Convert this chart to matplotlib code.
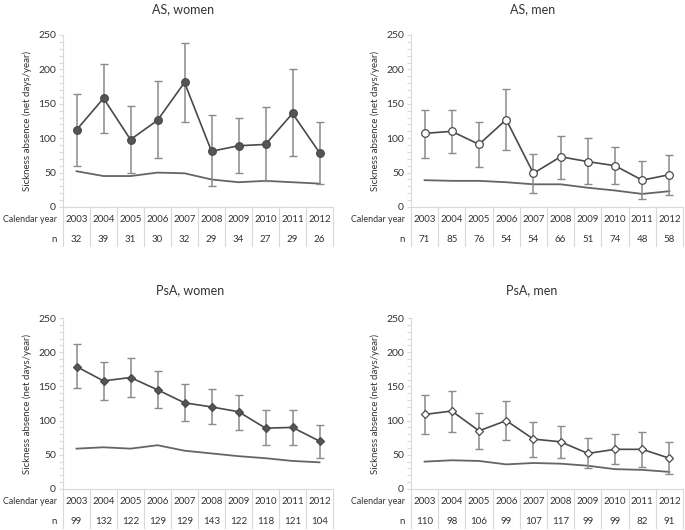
import matplotlib
matplotlib.use('Agg')
import matplotlib.pyplot as plt
import matplotlib.transforms as mtransforms
import numpy as np

plt.rcParams['font.family'] = ['Lato', 'DejaVu Sans']

years = ['2003', '2004', '2005', '2006', '2007', '2008', '2009', '2010', '2011', '2012']

# AS, women
as_w_mean = [112, 158, 98, 126, 181, 81, 89, 91, 136, 79]
as_w_upper = [164, 208, 147, 183, 239, 133, 130, 146, 200, 123]
as_w_lower = [60, 108, 49, 71, 124, 30, 49, 38, 74, 34]
as_w_ref = [52, 45, 45, 50, 49, 40, 36, 38, 36, 34]
as_w_n = [32, 39, 31, 30, 32, 29, 34, 27, 29, 26]

# AS, men
as_m_mean = [107, 110, 91, 127, 49, 73, 66, 60, 39, 47]
as_m_upper = [141, 141, 124, 171, 77, 103, 100, 87, 67, 76]
as_m_lower = [71, 78, 58, 83, 21, 41, 34, 34, 11, 18]
as_m_ref = [39, 38, 38, 36, 33, 33, 28, 24, 19, 23]
as_m_n = [71, 85, 76, 54, 54, 66, 51, 74, 48, 58]

# PsA, women
psa_w_mean = [179, 158, 163, 145, 126, 120, 113, 89, 90, 70]
psa_w_upper = [212, 186, 192, 173, 153, 146, 138, 115, 116, 93]
psa_w_lower = [147, 130, 134, 119, 99, 95, 86, 65, 65, 46]
psa_w_ref = [59, 61, 59, 64, 56, 52, 48, 45, 41, 39]
psa_w_n = [99, 132, 122, 129, 129, 143, 122, 118, 121, 104]

# PsA, men
psa_m_mean = [109, 114, 85, 100, 73, 69, 52, 58, 58, 45]
psa_m_upper = [137, 143, 111, 128, 98, 92, 75, 81, 83, 68]
psa_m_lower = [81, 84, 59, 71, 47, 46, 31, 36, 32, 22]
psa_m_ref = [40, 42, 41, 36, 38, 37, 34, 29, 28, 25]
psa_m_n = [110, 98, 106, 99, 107, 117, 99, 99, 82, 91]

W, H = 685, 530
fig = plt.figure(figsize=(W / 100, H / 100), dpi=100)

LINE = '#4a4a4a'
ERR = '#8a8a8a'
REF = '#656565'
GRID = '#d9d9d9'
TXT = '#333333'

panels = [
    dict(title='AS, women', mean=as_w_mean, up=as_w_upper, lo=as_w_lower, ref=as_w_ref, n=as_w_n,
         box=(63, 333, 35, 207), title_xy=(183, 9), marker='o', ms=5.5, filled=True),
    dict(title='AS, men', mean=as_m_mean, up=as_m_upper, lo=as_m_lower, ref=as_m_ref, n=as_m_n,
         box=(411, 683, 35, 207), title_xy=(533, 9), marker='o', ms=5.5, filled=False),
    dict(title='PsA, women', mean=psa_w_mean, up=psa_w_upper, lo=psa_w_lower, ref=psa_w_ref, n=psa_w_n,
         box=(63, 333, 318, 489), title_xy=(190, 290), marker='D', ms=3.8, filled=True),
    dict(title='PsA, men', mean=psa_m_mean, up=psa_m_upper, lo=psa_m_lower, ref=psa_m_ref, n=psa_m_n,
         box=(411, 683, 318, 489), title_xy=(532, 290), marker='D', ms=3.8, filled=False),
]

for p in panels:
    x0, x1, ytop, ybot = p['box']
    ax = fig.add_axes([x0 / W, 1 - ybot / H, (x1 - x0) / W, (ybot - ytop) / H])
    hpx = ybot - ytop
    wpx = x1 - x0
    x = np.arange(len(years))
    mean = np.array(p['mean'])
    yerr = [mean - np.array(p['lo']), np.array(p['up']) - mean]

    ax.plot(x, p['ref'], color=REF, lw=1.3, zorder=2)
    ax.errorbar(x, mean, yerr=yerr, fmt='none', ecolor=ERR, elinewidth=1.1,
                capsize=2.6, capthick=1.0, zorder=3)
    ax.plot(x, mean, color=LINE, lw=1.2, zorder=4,
            marker=p['marker'], ms=p['ms'],
            mfc=('#555555' if p['filled'] else 'white'), mec='#4a4a4a', mew=0.9)

    ax.set_xlim(-0.5, len(years) - 0.5)
    ax.set_ylim(0, 250)
    ax.set_yticks([0, 50, 100, 150, 200, 250])
    ax.set_yticks(np.arange(0, 251, 10), minor=True)
    ax.set_xticks([])
    for s in ['top', 'right']:
        ax.spines[s].set_visible(False)
    for s in ['left', 'bottom']:
        ax.spines[s].set_color(GRID)
        ax.spines[s].set_linewidth(0.8)
    ax.tick_params(axis='y', which='both', color=GRID, length=3, width=0.8,
                   labelsize=7.5, labelcolor=TXT, pad=2)
    ax.set_ylabel('Sickness absence (net days/year)', fontsize=7, color=TXT)
    ax.yaxis.set_label_coords(-31 / wpx, 0.5)

    trans = ax.get_xaxis_transform()
    t_year = mtransforms.offset_copy(trans, fig=fig, x=0, y=-13, units='dots')
    t_n = mtransforms.offset_copy(trans, fig=fig, x=0, y=-32, units='dots')
    for i, yr in enumerate(years):
        ax.text(i, 0, yr, transform=t_year, ha='center', va='center', fontsize=7, color=TXT)
        ax.text(i, 0, str(p['n'][i]), transform=t_n, ha='center', va='center', fontsize=7, color=TXT)
    t_year_l = mtransforms.offset_copy(trans, fig=fig, x=-6, y=-13, units='dots')
    t_n_l = mtransforms.offset_copy(trans, fig=fig, x=-6, y=-33, units='dots')
    ax.text(-0.5, 0, 'Calendar year', transform=t_year_l, ha='right', va='center', fontsize=6.4, color=TXT)
    ax.text(-0.5, 0, 'n', transform=t_n_l, ha='right', va='center', fontsize=7, color=TXT)
    for b in np.arange(-0.5, len(years), 1.0):
        ax.plot([b, b], [0, -39 / hpx], transform=trans, color=GRID, lw=0.8, clip_on=False)

    fig.text(p['title_xy'][0] / W, 1 - p['title_xy'][1] / H, p['title'], ha='center', va='center',
             fontsize=9, color=TXT)

fig.savefig('out.png', dpi=100)
